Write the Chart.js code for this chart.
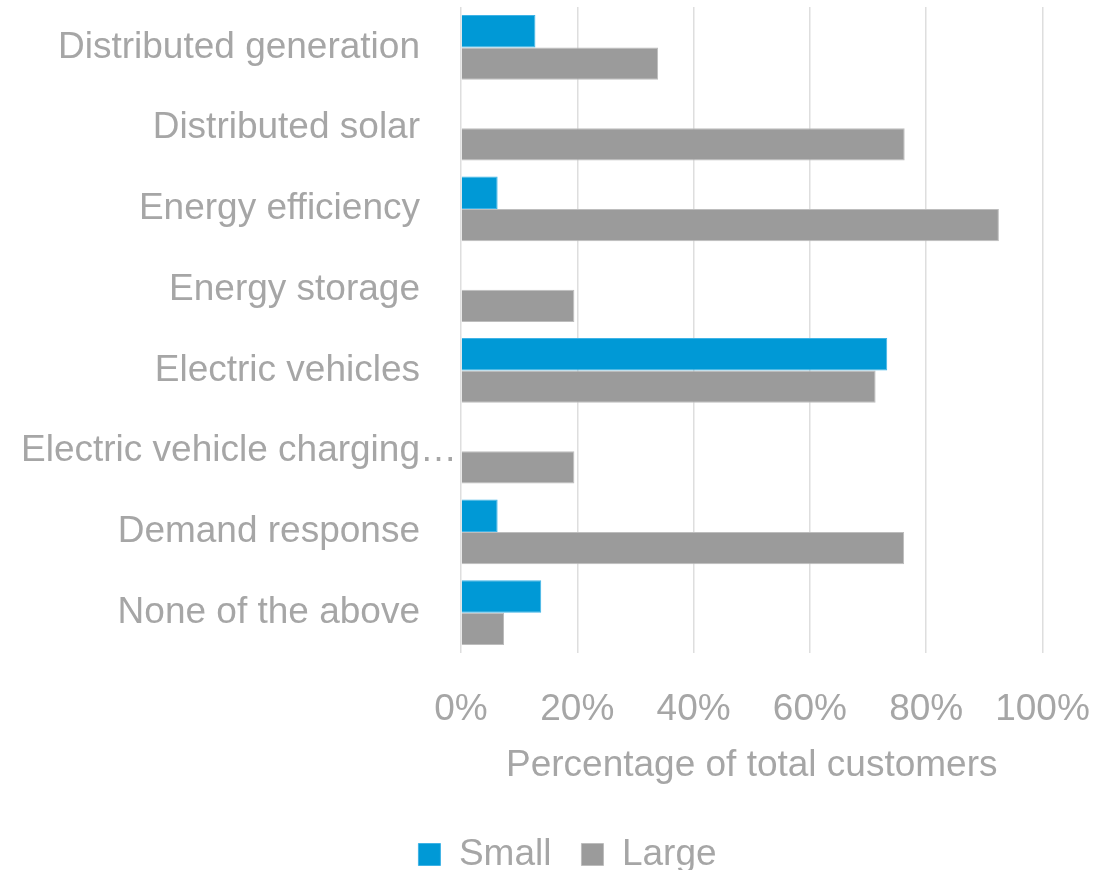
<!DOCTYPE html>
<html><head><meta charset="utf-8">
<script src="https://cdn.jsdelivr.net/npm/chart.js@4/dist/chart.umd.min.js"></script>
<style>html,body{margin:0;padding:0;background:#fff}#wrap{width:1117px;height:870px}</style>
</head><body><div id="wrap"><canvas id="c" width="1117" height="870"></canvas></div>
<script>
const categories = ["Distributed generation", "Distributed solar", "Energy efficiency", "Energy storage", "Electric vehicles", "Electric vehicle charging\u2026", "Demand response", "None of the above"];
const smallValues = [12.8, 0, 6.3, 0, 73.3, 0, 6.3, 13.8];
const largeValues = [33.9, 76.3, 92.5, 19.5, 71.3, 19.5, 76.2, 7.4];
const seriesNames = ["Small", "Large"];
const xAxisTitle = "Percentage of total customers";

const TXT = '#a6a6a6';
const FONT = {family: "'Liberation Sans', Arial, sans-serif", size: 37};
const PAD_R = -18;

new Chart(document.getElementById('c'), {
  type: 'bar',
  data: {
    labels: categories,
    datasets: [
      {label: seriesNames[0], data: smallValues, backgroundColor: '#0099d6', borderColor: '#3fb3e6', borderWidth: 1, categoryPercentage: 0.8, barPercentage: 1.0},
      {label: seriesNames[1], data: largeValues, backgroundColor: '#9b9b9b', borderColor: '#bdbdbd', borderWidth: 1, categoryPercentage: 0.8, barPercentage: 1.0}
    ]
  },
  options: {
    indexAxis: 'y',
    responsive: false,
    devicePixelRatio: 1,
    animation: false,
    layout: {padding: {top: 7, left: 0, right: PAD_R, bottom: -13}},
    plugins: {
      tooltip: {enabled: false},
      legend: {
        position: 'bottom',
        labels: {boxWidth: 22, boxHeight: 22, padding: 30, color: TXT, font: FONT}
      }
    },
    scales: {
      x: {
        min: 0, max: 100,
        ticks: {stepSize: 20, color: TXT, font: FONT, padding: 35, callback: v => v + '%'},
        grid: {color: '#dedede', lineWidth: 1.5, drawTicks: false},
        border: {display: false},
        title: {display: true, text: xAxisTitle, color: TXT, font: FONT, padding: {top: 12, bottom: 18}},
        afterFit: s => { s.height = 153; s.paddingLeft = 0; s.paddingRight = 1117 - 1042.5; }
      },
      y: {
        ticks: {color: TXT, font: FONT, padding: -4,
          callback: function(v) { const l = this.getLabelForValue(v); return l.endsWith('\u2026') ? l : l + '\u2003'; }},
        grid: {display: false},
        border: {display: false},
        afterFit: s => { s.width = 461; s.paddingTop = 0; s.paddingBottom = 0; }
      }
    }
  }
});
</script></body></html>
